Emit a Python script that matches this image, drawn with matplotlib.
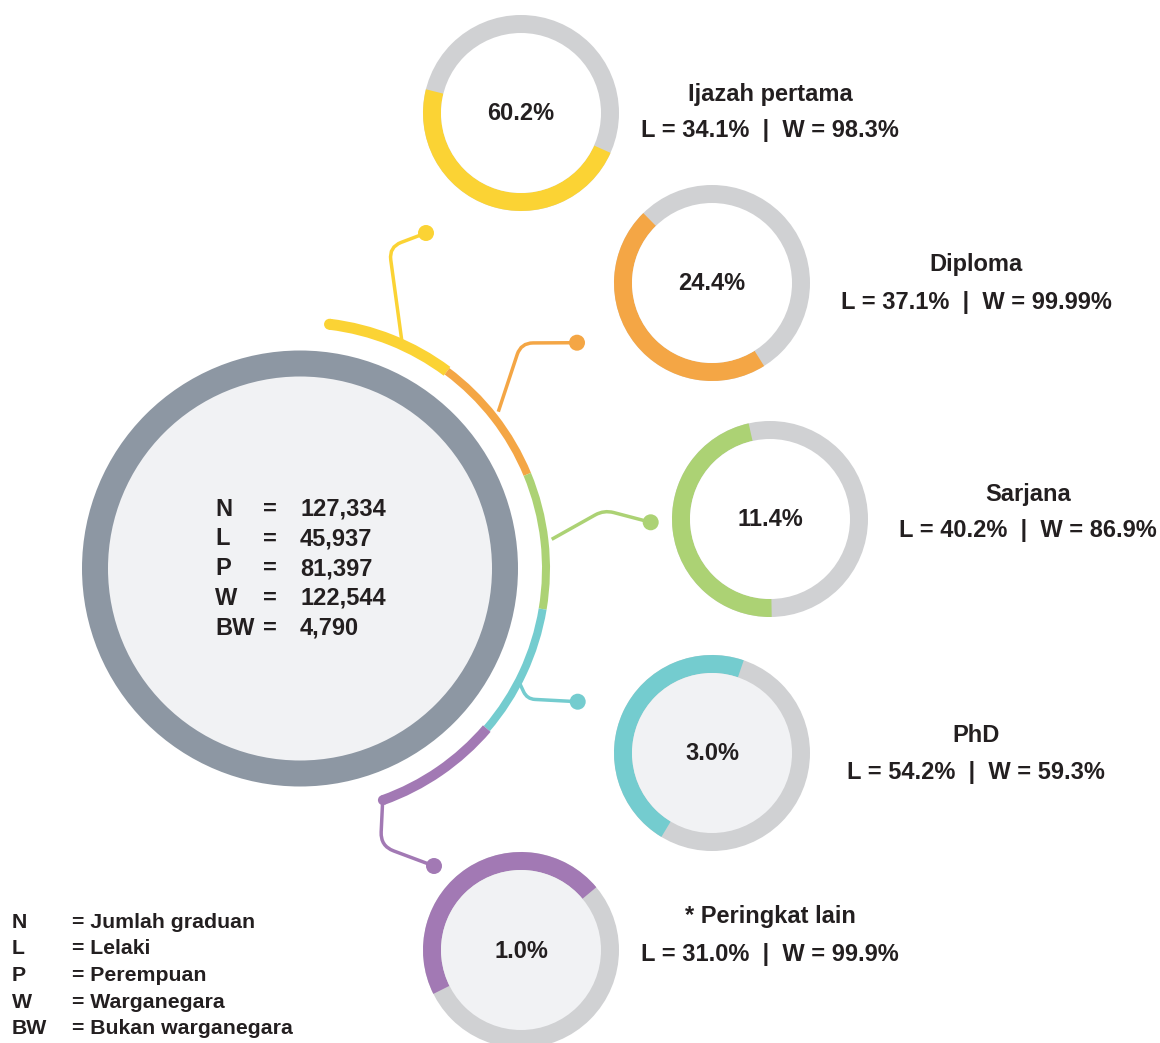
import numpy as np
import matplotlib
matplotlib.use("Agg")
from matplotlib import pyplot as plt
from matplotlib.patches import Wedge, Circle, PathPatch
from matplotlib.path import Path

plt.rcParams['font.family'] = ['Liberation Sans', 'DejaVu Sans']

# data
levels = ["Ijazah pertama", "Diploma", "Sarjana", "PhD", "* Peringkat lain"]
share = ["60.2%", "24.4%", "11.4%", "3.0%", "1.0%"]
lelaki = ["34.1%", "37.1%", "40.2%", "54.2%", "31.0%"]
warga = ["98.3%", "99.99%", "86.9%", "59.3%", "99.9%"]

total_keys = ["N", "L", "P", "W", "BW"]
total_vals = ["127,334", "45,937", "81,397", "122,544", "4,790"]

legend_keys = ["N", "L", "P", "W", "BW"]
legend_text = ["Jumlah graduan", "Lelaki", "Perempuan", "Warganegara", "Bukan warganegara"]

colors = ["#fbd334", "#f4a645", "#acd274", "#74cccf", "#a279b4"]
ring_grey = "#d0d1d3"
big_grey = "#8d97a3"
fill_grey = "#f1f2f4"
txt = "#231f20"

# layout (pixel coords, y down)
W, H = 1160, 1043
big_c = (300, 568.5)
donut_c = [(521, 113), (712, 283), (770, 519), (712, 753), (521, 950)]
donut_fill = ["white", "white", "white", fill_grey, fill_grey]
# coloured part of each small ring, screen angles (deg, counter-clockwise)
ring_from = [166, 134.5, 102.6, 71.1, 39.8]
ring_to = [336, 302.1, 271.0, 238.9, 206.6]
label_xy = [(770, 92), (976, 263), (1028, 492), (976, 734), (770, 915)]
# outer arc segments (screen angles)
seg_edges = [83.1, 53.3, 22.5, -9.5, -40.6, -70.3]
seg_width = [11, 8, 8, 8, 10]
# start, corner, dot, corner radius
connectors = [
    [(401.7, 340), (389, 247), (426, 233), 13],
    [(498.3, 411.7), (521, 343), (577, 342.7), 12],
    [(551.7, 539.3), (604, 510), (650.7, 522.3), 10],
    [(520, 684), (527, 699), (577.7, 701.7), 8],
    [(382.7, 800), (380.5, 846), (434, 866), 14],
]

fig = plt.figure(figsize=(W / 100, H / 100), dpi=100)
ax = fig.add_axes([0, 0, 1, 1])
ax.set_xlim(0, W)
ax.set_ylim(H, 0)
ax.set_aspect("equal")
ax.axis("off")


def wedge(c, r, a, b, width, color, z=2):
    # screen angles a..b (ccw) -> data angles with y flipped
    ax.add_patch(Wedge(c, r, -b, -a, width=width, facecolor=color, edgecolor="none", zorder=z))


def label(x, yc, s, size, ha="center"):
    # yc = middle of the capitals
    ax.text(x, yc + size * 0.5, s, ha=ha, va="baseline", fontsize=size,
            fontweight="bold", color=txt, zorder=5)


# big circle
ax.add_patch(Circle(big_c, 218, facecolor=big_grey, edgecolor="none", zorder=1))
ax.add_patch(Circle(big_c, 192, facecolor=fill_grey, edgecolor="none", zorder=2))

# outer coloured arc
r_arc = 246
for i in range(5):
    a, b = seg_edges[i + 1], seg_edges[i]
    wedge(big_c, r_arc + seg_width[i] / 2, a, b, seg_width[i], colors[i])
for ang, w, col in [(seg_edges[0], seg_width[0], colors[0]), (seg_edges[-1], seg_width[-1], colors[-1])]:
    t = np.radians(ang)
    ax.add_patch(Circle((big_c[0] + r_arc * np.cos(t), big_c[1] - r_arc * np.sin(t)), w / 2,
                        facecolor=col, edgecolor="none", zorder=2))

# connectors with a rounded corner
for i, (p0, pc, p1, rad) in enumerate(connectors):
    p0, pc, p1 = np.array(p0), np.array(pc), np.array(p1)
    u0 = (p0 - pc) / np.linalg.norm(p0 - pc)
    u1 = (p1 - pc) / np.linalg.norm(p1 - pc)
    c0 = pc + u0 * rad
    c1 = pc + u1 * rad
    p = Path([p0, c0, pc, c1, p1],
             [Path.MOVETO, Path.LINETO, Path.CURVE3, Path.CURVE3, Path.LINETO])
    ax.add_patch(PathPatch(p, facecolor="none", edgecolor=colors[i], lw=2.5,
                           capstyle="butt", zorder=3))
    ax.add_patch(Circle(p1, 8, facecolor=colors[i], edgecolor="none", zorder=3))

# small donuts
for i in range(5):
    c = donut_c[i]
    ax.add_patch(Circle(c, 98, facecolor=ring_grey, edgecolor="none", zorder=1))
    wedge(c, 98, ring_from[i], ring_to[i], 18, colors[i])
    ax.add_patch(Circle(c, 80, facecolor=donut_fill[i], edgecolor="none", zorder=2))
    label(c[0], c[1] - 1, share[i], 17)
    lx, ly = label_xy[i]
    label(lx, ly, levels[i], 17)
    label(lx, ly + 37, "L = %s  |  W = %s" % (lelaki[i], warga[i]), 17)

# centre totals
for j in range(5):
    y = 507 + j * 29.8
    label(215, y, total_keys[j], 17, ha="left")
    label(270, y, "=", 17)
    label(300, y, total_vals[j], 17, ha="left")

# legend
for j in range(5):
    y = 920 + j * 26.7
    label(12, y, legend_keys[j], 15.3, ha="left")
    label(72, y, "= " + legend_text[j], 15.3, ha="left")

fig.savefig("out.png", dpi=100)
